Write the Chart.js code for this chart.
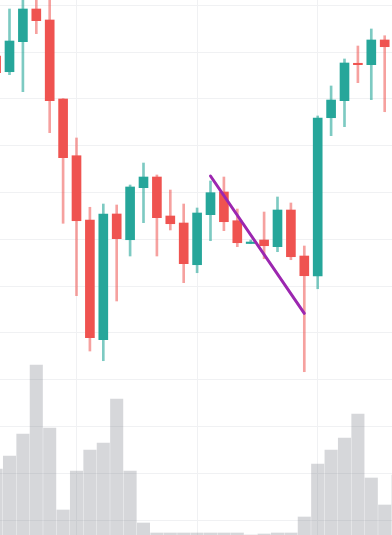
<!DOCTYPE html>
<html>
<head>
<meta charset="utf-8">
<script src="https://cdn.jsdelivr.net/npm/chart.js@4"></script>
<style>
  html, body { margin: 0; padding: 0; background: #fff; }
  #caja { width: 392px; height: 535px; }
</style>
</head>
<body>
<div id="caja"><canvas id="chartVelas"></canvas></div>
<script>
// datos (una vela por sesion)
const velas    = [0, 1, 2, 3, 4, 5, 6, 7, 8, 9, 10, 11, 12, 13, 14, 15, 16, 17, 18, 19, 20, 21, 22, 23, 24, 25, 26, 27, 28, 29, 30];
const apertura = [199.17, 195.81, 202.22, 209.21, 206.86, 189.98, 177.86, 164.12, 138.55, 165.41, 159.91, 171.03, 173.31, 164.98, 163.48, 154.57, 165.26, 170.11, 163.97, 159.10, 159.85, 158.42, 166.26, 156.43, 152.16, 185.98, 189.62, 197.61, 197.31, 202.59, 201.20];
const cierre   = [195.60, 202.37, 209.21, 206.71, 189.62, 177.44, 163.97, 138.97, 165.41, 160.13, 171.18, 173.31, 164.62, 163.33, 154.79, 165.62, 169.96, 163.76, 159.27, 159.42, 158.63, 166.26, 156.28, 152.22, 185.92, 189.76, 197.67, 197.31, 202.59, 201.15, 204.50];
const maximo   = [200.45, 209.21, 213.27, 212.20, 212.84, 190.05, 181.65, 166.84, 167.54, 167.33, 171.60, 176.30, 173.74, 170.53, 167.54, 166.69, 172.46, 173.31, 166.47, 159.85, 165.83, 169.04, 167.76, 158.57, 186.35, 192.76, 198.53, 201.30, 204.94, 203.50, 206.00];
const minimo   = [194.47, 195.17, 191.54, 203.93, 182.78, 163.42, 147.95, 136.13, 134.06, 146.82, 156.43, 163.55, 156.43, 161.99, 150.73, 152.86, 159.70, 161.84, 158.42, 159.10, 155.85, 157.35, 155.64, 131.71, 149.44, 182.14, 184.06, 193.46, 189.83, 187.26, 199.00];
const volumen  = [660, 790, 1010, 1700, 1070, 250, 640, 850, 920, 1360, 640, 120, 20, 20, 20, 20, 20, 20, 20, 0, 10, 20, 20, 180, 710, 850, 970, 1210, 570, 300, 600];

// linea de tendencia (vela, precio)
const lineaX = [16, 23];
const lineaY = [173.53, 144.19];

// marcas del eje
const nivelesPrecio = [100, 110, 120, 130, 140, 150, 160, 170, 180, 190, 200, 210];
const marcasTiempo  = [6, 15, 24];

const verde = '#26a69a';
const rojo  = '#ef5350';
const colorCuerpo = velas.map((v, i) => cierre[i] >= apertura[i] ? verde : rojo);
const colorMecha  = velas.map((v, i) => cierre[i] >= apertura[i] ? 'rgba(38,166,154,0.6)' : 'rgba(239,83,80,0.55)');

new Chart(document.getElementById('chartVelas'), {
    type: 'bar',
    data: {
        datasets: [{
            type: 'line',
            data: lineaX.map((x, i) => ({ x: x, y: lineaY[i] })),
            borderColor: '#9c27b0',
            borderWidth: 3,
            pointRadius: 0,
            borderCapStyle: 'round'
        }, {
            data: velas.map((v, i) => ({ x: v, y: [apertura[i], cierre[i]] })),
            backgroundColor: colorCuerpo,
            barThickness: 9,
            minBarLength: 1,
            grouped: false
        }, {
            data: velas.map((v, i) => ({ x: v, y: [minimo[i], maximo[i]] })),
            backgroundColor: colorMecha,
            barThickness: 2,
            grouped: false
        }, {
            data: velas.map((v, i) => ({ x: v, y: volumen[i] })),
            backgroundColor: 'rgba(120,123,134,0.3)',
            barThickness: 12.4,
            grouped: false,
            yAxisID: 'yv'
        }]
    },
    options: {
        responsive: true,
        maintainAspectRatio: false,
        animation: false,
        layout: { padding: 0 },
        plugins: { legend: { display: false }, tooltip: { enabled: false } },
        scales: {
            x: {
                type: 'linear',
                min: 0.291,
                max: 29.545,
                offset: false,
                afterBuildTicks: s => { s.ticks = marcasTiempo.map(v => ({ value: v })); },
                ticks: { display: false },
                grid: { color: '#f0f1f3', drawTicks: false, offset: false },
                border: { display: false }
            },
            y: {
                min: 96.82,
                max: 211.13,
                afterBuildTicks: s => { s.ticks = nivelesPrecio.map(v => ({ value: v })); },
                ticks: { display: false },
                grid: { color: '#f0f1f3', drawTicks: false },
                border: { display: false }
            },
            yv: {
                axis: 'y',
                display: false,
                min: 0,
                max: 5350
            }
        }
    }
});
</script>
</body>
</html>
